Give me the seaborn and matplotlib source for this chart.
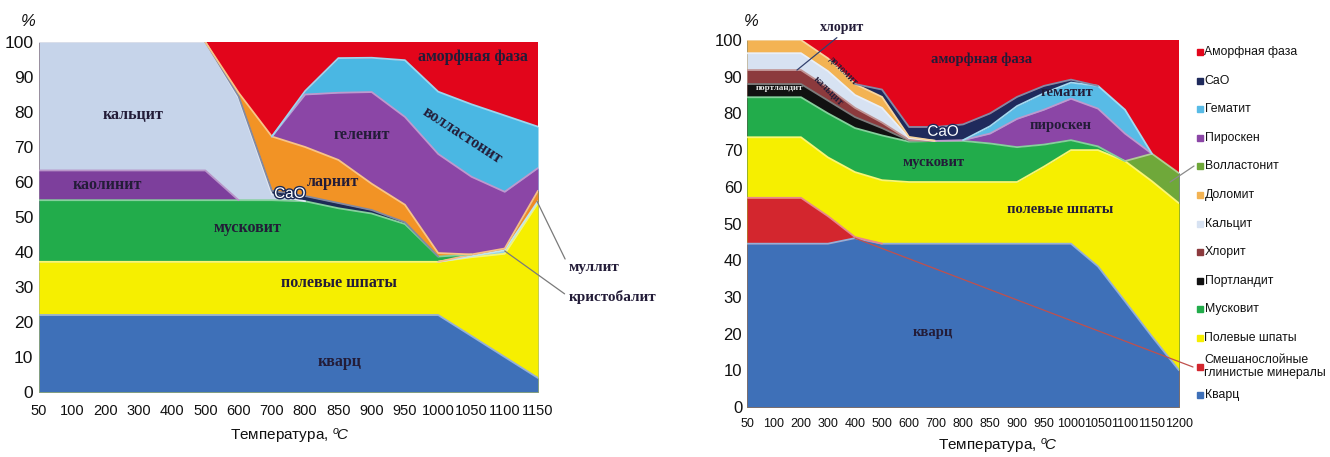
import numpy as np
import pandas as pd
import matplotlib
matplotlib.use("Agg")
import matplotlib.pyplot as plt
import matplotlib.patheffects as pe
from matplotlib.colors import to_rgb
from matplotlib.lines import Line2D
import seaborn as sns

sns.set_theme(style="white")
plt.rcParams["font.family"] = ["Liberation Sans", "DejaVu Sans"]
plt.rcParams["mathtext.fontset"] = "custom"
plt.rcParams["mathtext.rm"] = "Liberation Sans"
plt.rcParams["mathtext.it"] = "Liberation Sans:italic"

SERIF = ["Liberation Serif", "DejaVu Serif"]

# ---------------- left panel: phase composition, % ----------------
temps_left = ["50", "100", "200", "300", "400", "500", "600", "700", "800",
              "850", "900", "950", "1000", "1050", "1100", "1150"]
quartz_l       = [22, 22, 22, 22, 22, 22, 22, 22, 22, 22, 22, 22, 22, 16, 10, 4]
feldspar_l     = [15.2, 15.2, 15.2, 15.2, 15.2, 15.2, 15.2, 15.2, 15.2, 15.2, 15.2, 15.2, 15.2, 22.5, 29.5, 50]
cristobalite_l = [0, 0, 0, 0, 0, 0, 0, 0, 0, 0, 0, 0, 0, 0.3, 1.0, 0.5]
mullite_l      = [0, 0, 0, 0, 0, 0, 0, 0, 0, 0, 0, 0, 0, 0.5, 0.5, 3.0]
muscovite_l    = [17.6, 17.6, 17.6, 17.6, 17.6, 17.6, 17.6, 17.6, 17.3, 15.3, 13.8, 10.8, 1.5, 0, 0, 0]
kaolinite_l    = [8.5, 8.5, 8.5, 8.5, 8.5, 8.5, 0, 0, 0, 0, 0, 0, 0, 0, 0, 0]
calcite_l      = [36.7, 36.7, 36.7, 36.7, 36.7, 36.7, 29.2, 1.7, 0, 0, 0, 0, 0, 0, 0, 0]
cao_l          = [0, 0, 0, 0, 0, 0, 0.5, 1.0, 1.5, 1.5, 1.0, 0.5, 0, 0, 0, 0]
larnite_l      = [0, 0, 0, 0, 0, 0, 1.0, 15.5, 14, 12.3, 7.5, 5, 1.0, 0, 0, 0]
gehlenite_l    = [0, 0, 0, 0, 0, 0, 0, 0, 15, 19.2, 26.2, 25.1, 28.3, 22.2, 16.2, 6.5]
wollastonite_l = [0, 0, 0, 0, 0, 0, 0, 0, 1, 9.9, 9.8, 16.2, 17.8, 20.7, 21.8, 11.8]
amorphous_l    = [0, 0, 0, 0, 0, 0, 14.5, 27, 14, 4.6, 4.5, 5.2, 14.2, 17.8, 21, 24.2]

layers_left = [quartz_l, feldspar_l, cristobalite_l, mullite_l, muscovite_l,
               kaolinite_l, calcite_l, cao_l, larnite_l, gehlenite_l,
               wollastonite_l, amorphous_l]
colors_left = ["#3e70b8", "#f6ef00", "#8fd3ea", "#f08a24", "#22ac4b",
               "#7d3f9c", "#c6d4ea", "#1c2a55", "#f29325", "#8b46a6",
               "#4ab7e3", "#e2051b"]

# ---------------- right panel ----------------
temps_right = ["50", "100", "200", "300", "400", "500", "600", "700", "800",
               "850", "900", "950", "1000", "1050", "1100", "1150", "1200"]
quartz_r       = [44.5, 44.5, 44.5, 44.5, 46, 44.5, 44.5, 44.5, 44.5, 44.5, 44.5, 44.5, 44.5, 38.3, 28.8, 19.2, 10]
mixed_clay_r   = [12.5, 12.5, 12.5, 7.5, 0.3, 0, 0, 0, 0, 0, 0, 0, 0, 0, 0, 0, 0]
feldspar_r     = [16.5, 16.5, 16.5, 16, 17.7, 17.3, 16.8, 16.8, 16.8, 16.8, 16.8, 21, 25.5, 31.7, 38.2, 42.3, 45.5]
muscovite_r    = [10.9, 10.9, 10.9, 12, 12, 12.2, 11, 11.2, 11.2, 10.5, 9.5, 6, 2.7, 1, 0, 0, 0]
portlandite_r  = [3.6, 3.6, 3.6, 3.5, 3, 2, 0.3, 0, 0, 0, 0, 0, 0, 0, 0, 0, 0]
chlorite_r     = [3.8, 3.8, 3.8, 3.5, 2.5, 1.5, 0.2, 0, 0, 0, 0, 0, 0, 0, 0, 0, 0]
calcite_r      = [4.6, 4.6, 4.6, 4.5, 3.5, 4, 0.5, 0, 0, 0, 0, 0, 0, 0, 0, 0, 0]
dolomite_r     = [3.6, 3.6, 3.6, 3.5, 3, 3, 0.3, 0, 0, 0, 0, 0, 0, 0, 0, 0, 0]
wollastonite_r = [0, 0, 0, 0, 0, 0, 0, 0, 0, 0, 0, 0, 0, 0, 0, 7.5, 8.2]
pyroxene_r     = [0, 0, 0, 0, 0, 0, 0, 0, 0.2, 2.7, 7.7, 9.5, 11.3, 10.3, 7.5, 0, 0]
hematite_r     = [0, 0, 0, 0, 0, 0, 0, 0, 0, 2, 3.5, 4.5, 4.4, 6.2, 6.5, 0, 0]
cao_r          = [0, 0, 0, 0, 0, 2, 2.7, 3.8, 4.3, 3.5, 2.5, 2, 0.8, 0, 0, 0, 0]
amorphous_r    = [0, 0, 0, 5, 12, 13.5, 23.7, 23.7, 23, 20, 15.5, 12.5, 10.8, 12.5, 19, 31, 36.3]

layers_right = [quartz_r, mixed_clay_r, feldspar_r, muscovite_r, portlandite_r,
                chlorite_r, calcite_r, dolomite_r, wollastonite_r, pyroxene_r,
                hematite_r, cao_r, amorphous_r]
names_right = ["Кварц", "Смешанослойные\nглинистые минералы", "Полевые шпаты",
               "Мусковит", "Портландит", "Хлорит", "Кальцит", "Доломит",
               "Волластонит", "Пироскен", "Гематит", "CaO", "Аморфная фаза"]
colors_right = ["#3e70b8", "#d3262e", "#f6ef00", "#22ac4b", "#111111",
                "#8c3a3d", "#d7e2f2", "#f3b353", "#6fa83a", "#8b46a6",
                "#58bbe6", "#1f2a5c", "#e2051b"]

W, H = 1330, 457
fig = plt.figure(figsize=(W / 100, H / 100), dpi=100)
fig.patch.set_facecolor("white")


def px_axes(x0, y0, x1, y1):
    return fig.add_axes([x0 / W, 1 - y1 / H, (x1 - x0) / W, (y1 - y0) / H])


def fx(px):
    return px / W


def fy(py):
    return 1 - py / H


def lighten(c, f):
    r = np.array(to_rgb(c))
    return tuple(r + (1 - r) * f)


def draw_stack(ax, cats, layers, colors):
    x = np.arange(len(cats))
    vals = np.array(layers, dtype=float)
    tops = np.cumsum(vals, axis=0)
    # paint from the uppermost phase downwards so no seams show between bands
    for k in range(len(layers) - 1, -1, -1):
        ax.fill_between(x, 0, tops[k], color=colors[k], lw=0, zorder=1)
    # pale rim along the upper edge of every band
    for k in range(len(layers) - 1):
        v = vals[k]
        keep = np.array([v[max(i - 1, 0):i + 2].max() > 0 for i in range(len(v))])
        idx = np.flatnonzero(keep)
        if idx.size == 0:
            continue
        runs = np.split(idx, np.flatnonzero(np.diff(idx) > 1) + 1)
        for r in runs:
            if len(r) < 2:
                continue
            df = pd.DataFrame({"x": x[r], "y": tops[k][r]})
            sns.lineplot(data=df, x="x", y="y", ax=ax, estimator=None,
                         color=lighten(colors[k], 0.45), lw=1.3,
                         legend=False, zorder=2)
    ax.set_xlim(0, len(cats) - 1)
    ax.set_ylim(0, 100)
    ax.set_xlabel("")
    ax.set_ylabel("")
    ax.set_xticks(x)
    ax.set_yticks(range(0, 101, 10))
    ax.grid(False)
    for s in ax.spines.values():
        s.set_visible(False)


axL = px_axes(39, 42, 538, 392)
axR = px_axes(747, 40, 1179, 407)

draw_stack(axL, temps_left, layers_left, colors_left)
draw_stack(axR, temps_right, layers_right, colors_right)

axL.set_xticklabels(temps_left, fontsize=10.5, color="#111111")
axL.set_yticklabels([str(v) for v in range(0, 101, 10)], fontsize=12.5, color="#111111")
axL.tick_params(axis="x", length=0, pad=8.5)
axL.tick_params(axis="y", length=0, pad=4)

axR.set_xticklabels(temps_right, fontsize=9, color="#111111")
axR.set_yticklabels([str(v) for v in range(0, 101, 10)], fontsize=12, color="#111111")
axR.tick_params(axis="x", length=0, pad=8)
axR.tick_params(axis="y", length=0, pad=3.5)

# axis titles
xlabel = r"Температура, $^{o}\!C$"
fig.text(fx(290), fy(436), xlabel, ha="center", va="center", fontsize=11, color="#111111")
fig.text(fx(998), fy(446), xlabel, ha="center", va="center", fontsize=11, color="#111111")
fig.text(fx(28), fy(22), "%", ha="center", va="center", fontsize=12, style="italic", color="#111111")
fig.text(fx(751), fy(22), "%", ha="center", va="center", fontsize=12, style="italic", color="#111111")

# in-band phase names
labL_kw = dict(ha="center", va="center", fontsize=11.5, fontweight="bold",
               family=SERIF, color="#231c38", zorder=5)
labR_kw = dict(labL_kw, fontsize=10.5)
for txt, x, y, rot in [("кальцит", 2.83, 79.1, 0), ("каолинит", 2.04, 59.1, 0),
                       ("мусковит", 6.28, 46.9, 0), ("полевые шпаты", 9.02, 31.1, 0),
                       ("кварц", 9.05, 8.6, 0), ("ларнит", 8.84, 60.0, 0),
                       ("геленит", 9.71, 73.4, 0), ("волластонит", 12.71, 73.4, -33),
                       ("аморфная фаза", 13.04, 95.7, 0)]:
    axL.text(x, y, txt, rotation=rot, **labL_kw)
axL.text(7.54, 56.6, "CaO", ha="center", va="center", fontsize=11, color="white",
         zorder=6, path_effects=[pe.withStroke(linewidth=2, foreground="#1c2a55")])

ann_kw = dict(textcoords="figure pixels", annotation_clip=False, fontsize=11,
              fontweight="bold", family=SERIF, color="#231c38", ha="left", va="center")
axL.annotate("муллит", xy=(14.97, 54.5), xytext=(569, H - 267), **ann_kw,
             arrowprops=dict(arrowstyle="-", color="#7a7a7a", lw=0.9, relpos=(0, 0.5),
                             shrinkA=1, shrinkB=0))
axL.annotate("кристобалит", xy=(14.0, 40.3), xytext=(569, H - 297), **ann_kw,
             arrowprops=dict(arrowstyle="-", color="#7a7a7a", lw=0.9, relpos=(0, 0.5),
                             shrinkA=1, shrinkB=0))

for txt, x, y, rot in [("аморфная фаза", 8.7, 94.8, 0), ("мусковит", 6.9, 66.5, 0),
                       ("гематит", 11.85, 85.8, 0), ("пироскен", 11.6, 76.8, 0),
                       ("полевые шпаты", 11.6, 53.7, 0), ("кварц", 6.9, 20.2, 0)]:
    axR.text(x, y, txt, rotation=rot, **labR_kw)
axR.text(7.26, 75.0, "CaO", ha="center", va="center", fontsize=11, color="white",
         zorder=6, path_effects=[pe.withStroke(linewidth=2, foreground="#1f2a5c")])
axR.text(1.22, 87.0, "портландит", ha="center", va="center", fontsize=6.5,
         fontweight="bold", family=SERIF, color="#e8e8e8", zorder=5)
axR.text(3.0, 86.0, "кальцит", ha="center", va="center", fontsize=7,
         fontweight="bold", family=SERIF, color="#231c38", rotation=-45, zorder=5)
axR.text(3.55, 91.5, "доломит", ha="center", va="center", fontsize=7,
         fontweight="bold", family=SERIF, color="#231c38", rotation=-45, zorder=5)
axR.annotate("хлорит", xy=(1.85, 91.8), xytext=(842, H - 27), textcoords="figure pixels",
             annotation_clip=False, fontsize=10, fontweight="bold", family=SERIF,
             color="#231c38", ha="center", va="center",
             arrowprops=dict(arrowstyle="-", color="#33416e", lw=0.9, relpos=(0.5, 0),
                             shrinkA=1, shrinkB=0))

# leader lines from the legend
axR.annotate("", xy=(4.0, 46.0), xytext=(1193, H - 367), textcoords="figure pixels",
             annotation_clip=False,
             arrowprops=dict(arrowstyle="-", color="#c0504d", lw=0.9, shrinkA=0, shrinkB=0))
axR.annotate("", xy=(15.67, 61.3), xytext=(1194, H - 166), textcoords="figure pixels",
             annotation_clip=False,
             arrowprops=dict(arrowstyle="-", color="#8a8a8a", lw=0.9, shrinkA=0, shrinkB=0))

# legend, uppermost phase first
for k, (name, col) in enumerate(zip(names_right[::-1], colors_right[::-1])):
    yc = 52 + 28.6 * k
    fig.add_artist(Line2D([fx(1199.5)], [fy(yc)], marker="s", ms=5, color=col,
                          ls="none", transform=fig.transFigure))
    fig.text(fx(1204.5), fy(yc), name, ha="left", va="center", fontsize=8.8,
             color="#111111", linespacing=1.05)

fig.savefig("out.png", dpi=100, facecolor="white")
